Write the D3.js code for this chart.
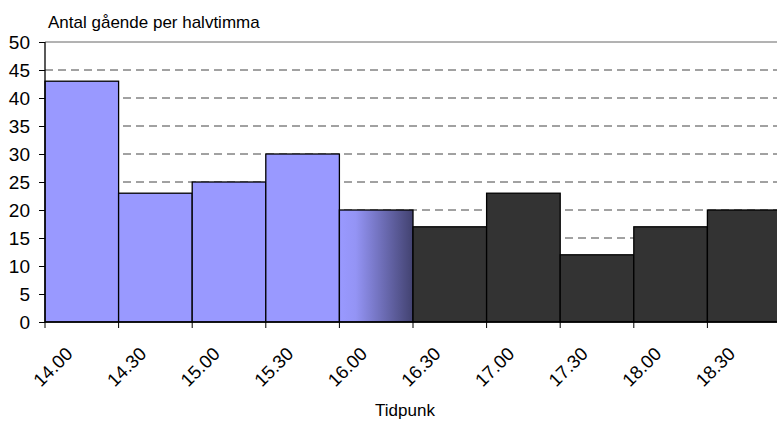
<!DOCTYPE html>
<html>
<head>
<meta charset="utf-8">
<script src="https://cdn.jsdelivr.net/npm/d3@7"></script>
<style>
  html, body { margin: 0; padding: 0; background: #fff; }
  svg { display: block; font-family: Arial, "Liberation Sans", sans-serif; }
</style>
</head>
<body>
<svg id="chart" width="777" height="421"></svg>
<script>
// ── Data ─────────────────────────────────────────────────────────────────────
const TIMES  = ["14.00", "14.30", "15.00", "15.30", "16.00", "16.30", "17.00", "17.30", "18.00", "18.30"];
const COUNTS = [43, 23, 25, 30, 20, 17, 23, 12, 17, 20];
// fill style per bar: light (day), fade (transition), dark (evening)
const KINDS  = ["light", "light", "light", "light", "fade", "dark", "dark", "dark", "dark", "dark"];
const Y_TICKS = [0, 5, 10, 15, 20, 25, 30, 35, 40, 45, 50];

const M = { top: 42, left: 45 };
const W = 736, H = 280;
const FONT = "Arial, 'Liberation Sans', sans-serif";

const svg = d3.select("#chart");
const g   = svg.append("g").attr("transform", `translate(${M.left},${M.top})`);

const x = d3.scaleBand().domain(TIMES).range([0, W]).padding(0);
const y = d3.scaleLinear().domain([0, 50]).range([H, 0]);

// gradient for the transition bar
const grad = svg.append("defs").append("linearGradient").attr("id", "fade");
grad.append("stop").attr("offset", "0%").attr("stop-color", "#9999ff");
grad.append("stop").attr("offset", "22%").attr("stop-color", "#9494f5");
grad.append("stop").attr("offset", "100%").attr("stop-color", "#424270");

// Gridlines (dashed), top one solid
g.append("g").selectAll("line")
  .data(Y_TICKS.filter(d => d > 0))
  .join("line")
  .attr("x1", 0).attr("x2", W + 10)
  .attr("y1", d => y(d)).attr("y2", d => y(d))
  .attr("stroke", d => d === 50 ? "#666" : "#444")
  .attr("stroke-width", 1)
  .attr("stroke-dasharray", d => d === 50 ? null : "8,5");

// Bars
const fill = { light: "#9999ff", fade: "url(#fade)", dark: "#333333" };
g.selectAll("rect.bar")
  .data(TIMES.map((t, i) => ({ t, v: COUNTS[i], k: KINDS[i] })))
  .join("rect")
  .attr("class", "bar")
  .attr("x", d => x(d.t))
  .attr("y", d => y(d.v))
  .attr("width", x.bandwidth())
  .attr("height", d => H - y(d.v))
  .attr("fill", d => fill[d.k])
  .attr("stroke", "#000")
  .attr("stroke-width", 1.3);

// Y axis
const yAx = g.append("g")
  .call(d3.axisLeft(y).tickValues(Y_TICKS).tickSize(6).tickPadding(9).tickFormat(d3.format("d")));
yAx.select(".domain").attr("stroke", "#000").attr("stroke-width", 1.3).attr("d", `M0,0V${H}`);
yAx.selectAll("text").attr("font-size", "19px").attr("fill", "#000").attr("font-family", FONT);

// X axis: ticks at bar left edges
const xAx = g.append("g").attr("transform", `translate(0,${H})`);
xAx.append("line").attr("x1", 0).attr("x2", W + 10).attr("stroke", "#000").attr("stroke-width", 1.5);
xAx.selectAll("line.tk")
  .data(TIMES)
  .join("line")
  .attr("class", "tk")
  .attr("x1", d => x(d)).attr("x2", d => x(d))
  .attr("y1", 0).attr("y2", 6)
  .attr("stroke", "#000");
xAx.selectAll("text")
  .data(TIMES)
  .join("text")
  .attr("transform", d => `translate(${x(d) + 9},${46}) rotate(-45)`)
  .attr("text-anchor", "middle")
  .attr("dominant-baseline", "middle")
  .attr("font-size", "18.5px")
  .text(d => d);

// Titles
svg.append("text").attr("x", 48).attr("y", 28).attr("font-size", "17px").text("Antal gående per halvtimma");
svg.append("text").attr("x", 405).attr("y", 416).attr("text-anchor", "middle").attr("font-size", "17px").text("Tidpunk");
</script>
</body>
</html>
